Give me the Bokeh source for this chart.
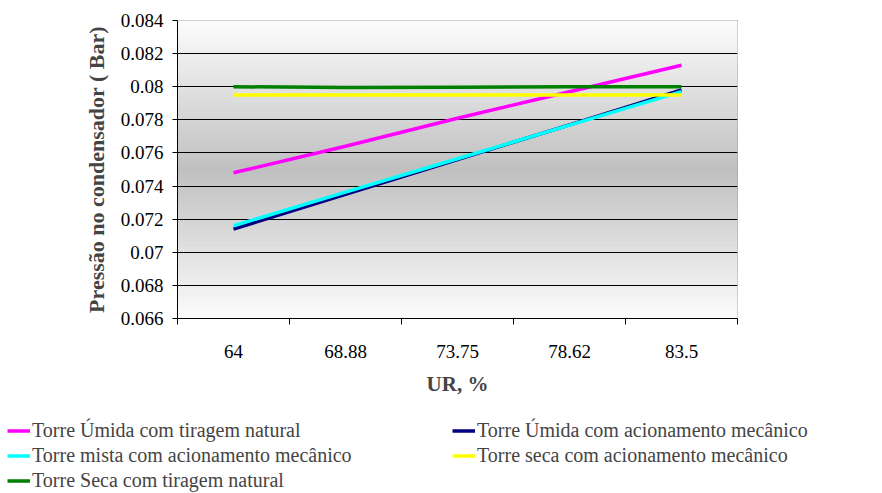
from bokeh.plotting import figure
from bokeh.layouts import column
from bokeh.models import FixedTicker, PrintfTickFormatter, Legend, LegendItem, Range1d
from bokeh.embed import file_html
from bokeh.resources import INLINE

categories = ["64", "68.88", "73.75", "78.62", "83.5"]
umida_natural = [0.0748, 0.0764, 0.0781, 0.0797, 0.0813]
umida_mecanico = [0.0714, 0.0735, 0.0756, 0.0777, 0.0798]
mista_mecanico = [0.0716, 0.07363, 0.07565, 0.07768, 0.0797]
seca_mecanico = [0.0795, 0.0795, 0.0795, 0.0795, 0.0795]
seca_natural = [0.0800, 0.07995, 0.07997, 0.0800, 0.0800]
y_ticks = [0.066, 0.068, 0.070, 0.072, 0.074, 0.076, 0.078, 0.080, 0.082, 0.084]

series = [
    ("Torre Úmida com tiragem natural", umida_natural, "#ff00ff"),
    ("Torre Úmida com acionamento mecânico", umida_mecanico, "#000080"),
    ("Torre mista com acionamento mecânico", mista_mecanico, "#00ffff"),
    ("Torre seca com acionamento mecânico", seca_mecanico, "#ffff00"),
    ("Torre Seca com tiragem natural", seca_natural, "#008000"),
]

n = len(categories)
xs = [i + 0.5 for i in range(n)]
ymin, ymax = y_ticks[0], y_ticks[-1]

p = figure(output_backend="svg", toolbar_location=None,
           x_range=Range1d(0, n), y_range=Range1d(ymin, ymax),
           frame_width=560, frame_height=298,
           min_border_left=177, min_border_top=20, min_border_right=145, min_border_bottom=100)
p.frame_align = False
p.background_fill_color = "white"
p.border_fill_color = "white"
p.outline_line_color = "#808080"

# gradient background (white at edges, gray in the middle)
steps = 120
bots, tops, cols = [], [], []
for k in range(steps):
    b = ymin + (ymax - ymin) * k / steps
    t = ymin + (ymax - ymin) * (k + 1) / steps
    mid = (k + 0.5) / steps
    d = abs(mid - 0.5) / 0.5
    c = int(round(192 + (252 - 192) * d))
    bots.append(b); tops.append(t); cols.append("#%02x%02x%02x" % (c, c, c))
bg = p.quad(left=0, right=n, bottom=bots, top=tops, fill_color=cols, line_color=cols, line_width=1)
bg.level = "image"

for name, vals, color in series:
    p.line(xs, vals, line_color=color, line_width=3.5)

# axes
p.yaxis.ticker = FixedTicker(ticks=y_ticks)
p.yaxis.formatter = PrintfTickFormatter(format="%g")
p.yaxis.major_label_text_font = "Liberation Serif"
p.yaxis.major_label_text_font_size = "19px"
p.yaxis.major_label_text_color = "black"
p.yaxis.major_label_standoff = 9
p.yaxis.major_tick_out = 5
p.yaxis.major_tick_in = 0
p.yaxis.minor_tick_line_color = None
p.yaxis.axis_line_color = "black"
p.yaxis.major_tick_line_color = "black"
p.yaxis.axis_label = "Pressão no condensador ( Bar)"
p.yaxis.axis_label_text_font = "Liberation Serif"
p.yaxis.axis_label_text_font_style = "bold"
p.yaxis.axis_label_text_font_size = "22px"
p.yaxis.axis_label_standoff = 9

p.xaxis.ticker = FixedTicker(ticks=xs, minor_ticks=list(range(n + 1)))
p.xaxis.major_label_overrides = {x: c for x, c in zip(xs, categories)}
p.xaxis.major_label_text_font = "Liberation Serif"
p.xaxis.major_label_text_font_size = "19px"
p.xaxis.major_label_text_color = "black"
p.xaxis.major_tick_out = 0
p.xaxis.major_tick_in = 0
p.xaxis.minor_tick_out = 6
p.xaxis.minor_tick_in = 0
p.xaxis.minor_tick_line_color = "black"
p.xaxis.axis_line_color = "black"
p.xaxis.major_label_standoff = 20
p.xaxis.axis_label = "UR, %"
p.xaxis.axis_label_text_font = "Liberation Serif"
p.xaxis.axis_label_text_font_style = "bold"
p.xaxis.axis_label_text_font_size = "21px"
p.xaxis.axis_label_standoff = 11

p.xgrid.grid_line_color = None
p.ygrid.ticker = FixedTicker(ticks=y_ticks)
p.ygrid.grid_line_color = "black"
p.ygrid.grid_line_width = 1

# legend strip below the chart (its lines lie outside its own view; only the legend shows)
lg = figure(width=882, height=75, output_backend="svg", toolbar_location=None,
            x_range=Range1d(0, n), y_range=Range1d(1, 2),
            x_axis_location=None, y_axis_location=None,
            min_border_left=0, min_border_right=0, min_border_top=0, min_border_bottom=0)
lg.frame_align = False
lg.grid.visible = False
lg.outline_line_color = None
lg.background_fill_color = "white"
lg.border_fill_color = "white"
items = []
for name, vals, color in series:
    r = lg.line(xs, vals, line_color=color, line_width=3.5)
    items.append(LegendItem(label=name, renderers=[r]))

legend = Legend(items=items, ncols=2, orientation="horizontal", location=(7, 0),
                glyph_width=23, glyph_height=25, label_height=25, label_width=420,
                label_standoff=2, spacing=0, padding=0, margin=0,
                label_text_font="Liberation Serif", label_text_font_size="20px",
                border_line_color=None, background_fill_alpha=0)
lg.add_layout(legend, "center")

layout = column(p, lg, spacing=0)
open("out.html", "w").write(file_html(layout, INLINE))
